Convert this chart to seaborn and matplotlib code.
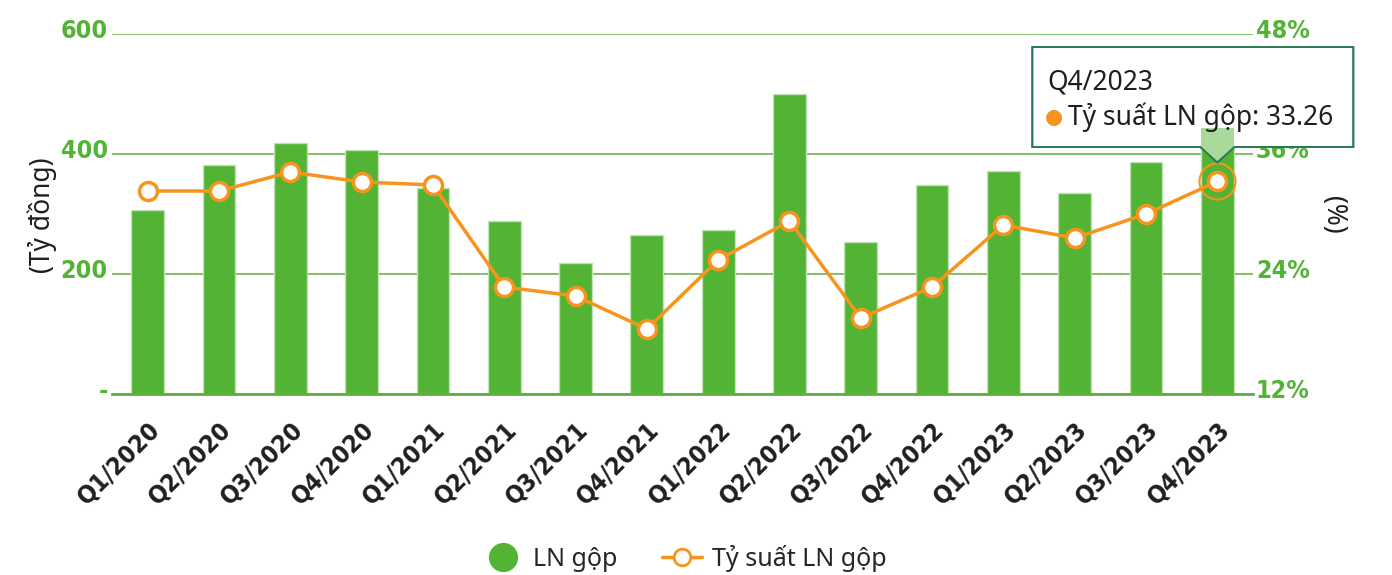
import matplotlib
matplotlib.use("Agg")
import matplotlib.pyplot as plt
import matplotlib.transforms as mtransforms
from matplotlib.lines import Line2D
from matplotlib.patches import Polygon, Rectangle
import seaborn as sns
import pandas as pd

# data
quarters = ["Q1/2020", "Q2/2020", "Q3/2020", "Q4/2020",
            "Q1/2021", "Q2/2021", "Q3/2021", "Q4/2021",
            "Q1/2022", "Q2/2022", "Q3/2022", "Q4/2022",
            "Q1/2023", "Q2/2023", "Q3/2023", "Q4/2023"]
ln_gop = [307, 382, 419, 407, 343, 288, 218, 265, 273, 500, 253, 348, 372, 335, 387, 444]
ty_suat = [32.3, 32.3, 34.2, 33.2, 32.9, 22.7, 21.8, 18.5, 25.4, 29.3, 19.6, 22.7, 28.9, 27.6, 30.0, 33.26]

left_ticks = [0, 200, 400, 600]
left_labels = ["-", "200", "400", "600"]
right_ticks = [12, 24, 36, 48]
right_labels = ["12%", "24%", "36%", "48%"]

GREEN = "#52b335"
GRID = "#62ad40"
ORANGE = "#f7941d"
DARK = "#1f1f1f"
TEXT_FONT = ["Noto Sans", "DejaVu Sans"]
NUM_FONT = ["DejaVu Sans"]

sns.set_theme(style="white")
plt.rcParams["font.family"] = TEXT_FONT

df = pd.DataFrame({"quarter": quarters, "ln_gop": ln_gop, "ty_suat": ty_suat})

W, H = 1392, 575
fig = plt.figure(figsize=(W / 100, H / 100), dpi=100)
ax = fig.add_axes([112 / W, 1 - 394 / H, (1253 - 112) / W, 360 / H])
ax2 = ax.twinx()

# bars (left axis) and margin line (right axis)
sns.barplot(data=df, x="quarter", y="ln_gop", color=GREEN, saturation=1, width=0.46,
            edgecolor="#bfe3b2", linewidth=1, ax=ax)
sns.pointplot(data=df, x="quarter", y="ty_suat", color=ORANGE, errorbar=None,
              markers="o", markersize=13, markerfacecolor="white",
              markeredgewidth=2.5, linewidth=2.5, ax=ax2)

# highlighted last point
last = len(df) - 1
ax2.plot(last, df["ty_suat"].iloc[last], "o", ms=26, mfc="none", mec=ORANGE, mew=1.5, zorder=5)

ax.set_xlim(-0.5, len(df) - 0.5)
ax.set_ylim(0, 600)
ax2.set_ylim(12, 48)

num_kw = dict(fontfamily=NUM_FONT, fontweight="bold", fontstretch="condensed")

# x axis: labels at centres, long green marks at boundaries
ax.set_xticks(range(len(df)))
ax.set_xticklabels(quarters, rotation=45, ha="right", va="top", rotation_mode="anchor",
                   fontsize=18, color=DARK, **num_kw)
ax.set_xticks([i - 0.5 for i in range(len(df) + 1)], minor=True)
ax.tick_params(axis="x", which="major", length=0, pad=17)
ax.tick_params(axis="x", which="minor", length=17, width=2, color=GRID, direction="out")

ax.set_yticks(left_ticks)
ax.set_yticklabels(left_labels, fontsize=18, color=GREEN, **num_kw)
ax.tick_params(axis="y", length=0, pad=3)
ax2.set_yticks(right_ticks)
ax2.set_yticklabels(right_labels, fontsize=18, color=GREEN, **num_kw)
ax2.tick_params(axis="y", length=0, pad=2)

ax.yaxis.grid(True, color=GRID, linewidth=1.1)
ax.xaxis.grid(False)
ax2.grid(False)
ax.set_axisbelow(True)
for a in (ax, ax2):
    for s in ("left", "right", "top"):
        a.spines[s].set_visible(False)
    a.set_xlabel("")
    a.set_ylabel("")
ax2.spines["bottom"].set_visible(False)
ax.spines["bottom"].set_color(GRID)
ax.spines["bottom"].set_linewidth(2)

# lift y tick labels a little above their grid lines
shift = mtransforms.ScaledTranslation(0, 4 / 72, fig.dpi_scale_trans)
for lab in ax.get_yticklabels() + ax2.get_yticklabels():
    lab.set_transform(lab.get_transform() + shift)

fig.text(42 / W, 1 - 215 / H, "(Tỷ đồng)", rotation=90, ha="center", va="center",
         fontsize=19, color=DARK)
fig.text(1333 / W, 1 - 215 / H, "(%)", rotation=270, ha="center", va="center",
         fontsize=19, color=DARK)

# tooltip for the last quarter
fig.canvas.draw()
px, py = ax2.transData.transform((last, df["ty_suat"].iloc[last]))
tip_y = py + 19
bl, br = px - 185, px + 136
bt, bb = H - 47, H - 147
tooltip = Polygon([(bl, bt), (br, bt), (br, bb), (px + 17, bb), (px, tip_y), (px - 17, bb), (bl, bb)],
                  closed=True, facecolor="white", edgecolor="#2a7a55", linewidth=1.3,
                  transform=None, zorder=10)
fig.add_artist(tooltip)
# the hovered bar shows faintly through the tooltip
bar = ax.patches[last]
ghost = Rectangle((bar.get_x(), 0), bar.get_width(), bar.get_height(), transform=ax.transData,
                  facecolor="#a9d99b", edgecolor="none", zorder=10.5)
ghost.set_clip_path(tooltip)
fig.add_artist(ghost)
outline = Polygon(tooltip.get_xy(), closed=True, facecolor="none", edgecolor="#2a7a55",
                  linewidth=1.3, transform=None, zorder=10.6)
fig.add_artist(outline)

fig.text((bl + 15) / W, (H - 82) / H, quarters[last], ha="left", va="center",
         fontsize=19, color=DARK, zorder=11)
fig.text((bl + 13) / W, (H - 117) / H, "●", ha="left", va="center",
         fontsize=15, color=ORANGE, family="DejaVu Sans", zorder=11)
fig.text((bl + 36) / W, (H - 117) / H, f"Tỷ suất LN gộp: {ty_suat[last]:.2f}", ha="left",
         va="center", fontsize=19, color=DARK, zorder=11)

# legend
handles = [Line2D([], [], marker="o", linestyle="", color=GREEN, markersize=20),
           Line2D([], [], marker="o", color=ORANGE, markerfacecolor="white",
                  markeredgecolor=ORANGE, markersize=12, markeredgewidth=2, linewidth=2.5)]
fig.legend(handles, ["LN gộp", "Tỷ suất LN gộp"], loc="center", ncol=2, frameon=False,
           bbox_to_anchor=(685 / W, 1 - 558 / H), fontsize=18, handlelength=1.6,
           columnspacing=1.8, handletextpad=0.4)

fig.savefig("out.png", dpi=100)
